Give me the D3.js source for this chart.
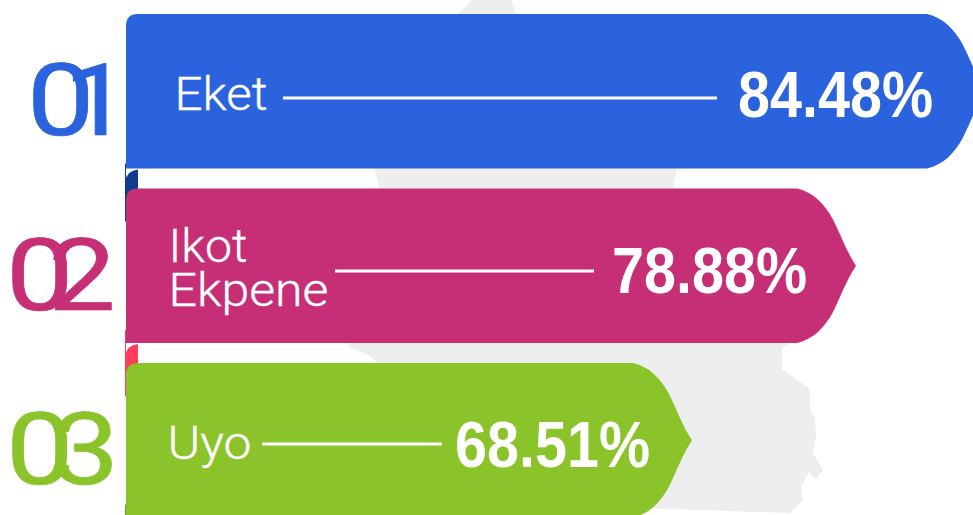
<!DOCTYPE html>
<html><head><meta charset="utf-8">
<script src="https://cdn.jsdelivr.net/npm/d3@7"></script>
<style>html,body{margin:0;padding:0;background:#fff;overflow:hidden}svg{display:block}</style>
</head><body><svg id="c" width="973" height="515"></svg>
<script>
const categories = ["Eket", "Ikot Ekpene", "Uyo"];
const labelLines = [["Eket"], ["Ikot", "Ekpene"], ["Uyo"]];
const values = [84.48, 78.88, 68.51];
const ranks = ["01", "02", "03"];
const barColors = ["#2a63dd", "#c62f76", "#8bc32a"];
const foldColors = ["#123b8e", "#ff3b5c", "#6f9c20"];
// layout (separate from data)
const rankX = [27, 6, 6], rankBase = [135, 310, 484], rankTrack = [-26, -21, -18];
const labelX = [174.5, 168.5, 167.5], labelBase = [[110], [262, 305.5], [459]];
const labelWidth = [[93], [79, 160], [84]];
const ruleX = [[283, 717], [335, 594], [262, 442]];
const ruleY = [98, 271, 444];
const valueEnd = [933, 807, 650], valueBase = [117, 293, 467];
const stripUp = [5, 13, 13];
const mapOutline = [[472,0],[458,14],[420,60],[374,168],[380,189],[372,300],[348,347],[369,355],[376,362],[420,510],[635,508],[790,513],[803,500],[802,498],[801,487],[809,472],[816,479],[823,470],[815,457],[813,455],[816,435],[815,418],[810,410],[810,389],[782,369],[782,348],[790,343],[700,300],[673,189],[677,168],[600,60],[515,14],[512,0]];

const svg = d3.select("#c");
const x = d3.scaleLinear().domain([68.51, 78.88, 84.48]).range([692, 856, 986]);
const y = d3.scaleBand().domain(categories).range([14, 517.5]).paddingInner(20 / 174.5);
const x0 = 126, bw = y.bandwidth();

svg.append("path").attr("d", d3.line()(mapOutline) + "Z").attr("fill", "#eeeeee");

function barPath(tip, t) {
  const b = t + bw, m = t + bw / 2, f = tip - 59;
  return `M${x0},${t + 12}Q${x0},${t} ${x0 + 12},${t}L${f},${t}` +
    `C${f + 17},${t + 4} ${f + 28},${t + 16} ${f + 36},${t + 31}` +
    `C${f + 44},${t + 47} ${f + 50},${t + 64} ${tip},${m}` +
    `C${f + 50},${b - 64} ${f + 44},${b - 47} ${f + 36},${b - 31}` +
    `C${f + 28},${b - 16} ${f + 17},${b - 4} ${f},${b}L${x0},${b}Z`;
}

categories.forEach((c, i) => {
  const t = y(c), b = t + bw;
  const g = svg.append("g");
  g.append("path").attr("fill", foldColors[i])
    .attr("d", `M${x0 - 1},${b + 13}Q${x0 + 1},${b + 2} ${x0 + 12},${b + 1}L${x0 + 12},${b + 30}L${x0 - 1},${b + 54}Z`);
  g.append("rect").attr("fill", foldColors[i]).attr("x", x0 - 1).attr("width", 1)
    .attr("y", b - stripUp[i]).attr("height", stripUp[i] + 40);
  g.append("path").attr("d", barPath(x(values[i]), t)).attr("fill", barColors[i]);
});
categories.forEach((c, i) => {
  svg.append("text").text(ranks[i])
    .attr("transform", `translate(${rankX[i]},${rankBase[i]}) scale(1.2,1)`)
    .attr("font-family", "Roboto").attr("font-weight", 400).attr("font-size", 100)
    .attr("letter-spacing", rankTrack[i]).attr("fill", barColors[i])
    .attr("stroke", barColors[i]).attr("stroke-width", 0.7);
  labelLines[i].forEach((l, j) => {
    svg.append("text").text(l).attr("x", labelX[i]).attr("y", labelBase[i][j])
      .attr("font-family", "Roboto").attr("font-weight", 300).attr("font-size", 46)
      .attr("textLength", labelWidth[i][j]).attr("lengthAdjust", "spacingAndGlyphs").attr("fill", "#fff")
      .attr("stroke", "#fff").attr("stroke-width", 0.35);
  });
  svg.append("line").attr("x1", ruleX[i][0]).attr("x2", ruleX[i][1])
    .attr("y1", ruleY[i]).attr("y2", ruleY[i]).attr("stroke", "#fff").attr("stroke-width", 3);
  svg.append("text").text(values[i].toFixed(2) + "%")
    .attr("x", valueEnd[i] - 195).attr("y", valueBase[i])
    .attr("font-family", "Liberation Sans").attr("font-weight", 700)
    .attr("font-size", 64).attr("textLength", 195).attr("lengthAdjust", "spacingAndGlyphs").attr("fill", "#fff");
});
</script></body></html>
